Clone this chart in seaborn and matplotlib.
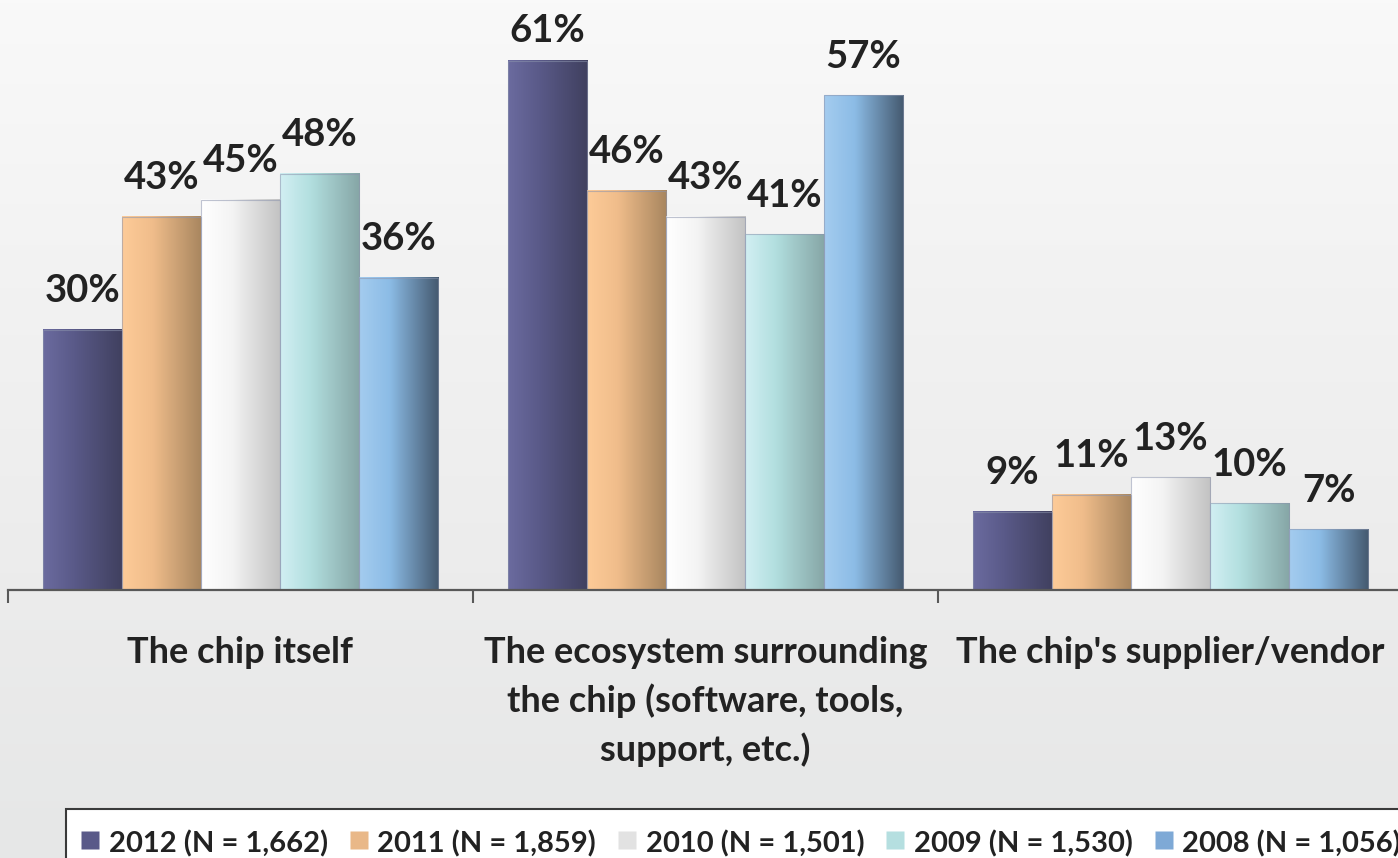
import numpy as np
import pandas as pd
import matplotlib
matplotlib.use("Agg")
import matplotlib.pyplot as plt
from matplotlib.colors import LinearSegmentedColormap
from matplotlib.lines import Line2D
from matplotlib.patches import Rectangle
import seaborn as sns

# ---- data ----
categories = ["The chip itself",
              "The ecosystem surrounding\nthe chip (software, tools,\nsupport, etc.)",
              "The chip's supplier/vendor"]
series = ["2012 (N = 1,662)", "2011 (N = 1,859)", "2010 (N = 1,501)",
          "2009 (N = 1,530)", "2008 (N = 1,056)"]
v2012 = [30, 61, 9]
v2011 = [43, 46, 11]
v2010 = [45, 43, 13]
v2009 = [48, 41, 10]
v2008 = [36, 57, 7]
values = [v2012, v2011, v2010, v2009, v2008]

df = pd.DataFrame({
    "category": [c for vals in values for c in categories],
    "series": [s for s, vals in zip(series, values) for _ in categories],
    "value": [v for vals in values for v in vals],
})

# gradient stops (left, mid, right) per series
grad_stops = [
    ("#6b6b9f", "#5a5a89", "#40405f"),
    ("#fdcb98", "#f0bd8b", "#a8865f"),
    ("#ffffff", "#f4f4f4", "#c2c2c2"),
    ("#d2eff3", "#b2dfdf", "#86a6a6"),
    ("#a4ccef", "#8cbce6", "#44596f"),
]
mid_colors = [s[1] for s in grad_stops]
legend_colors = ["#5a5a89", "#e9b888", "#e2e2e2", "#b5dfe0", "#7ea9d6"]

sns.set_theme(style="white")
plt.rcParams["font.family"] = ["Lato", "DejaVu Sans"]

W, H = 1398, 858
fig = plt.figure(figsize=(W / 100, H / 100), dpi=100)

# background vertical gradient
bg = fig.add_axes([0, 0, 1, 1], zorder=-10)
bg_cmap = LinearSegmentedColormap.from_list("bg", ["#f9f9f9", "#f2f2f2", "#ececec", "#e6e7e7"])
bg.imshow(np.linspace(0, 1, 256).reshape(-1, 1), aspect="auto", cmap=bg_cmap,
          extent=(0, 1, 0, 1), origin="upper")
bg.set_axis_off()

ax = fig.add_axes([8 / W, (H - 590) / H, 1395 / W, 590 / H])
ax.set_facecolor("none")

sns.barplot(data=df, x="category", y="value", hue="series", order=categories,
            hue_order=series, palette=mid_colors, width=0.85, saturation=1,
            legend=False, ax=ax)

ax.set_xlim(-0.5, 2.5)
ax.set_ylim(0, 68)

# gradient fills over bars
for i, cont in enumerate(ax.containers):
    cmap = LinearSegmentedColormap.from_list(
        f"g{i}", [(0, grad_stops[i][0]), (0.38, grad_stops[i][1]), (1, grad_stops[i][2])])
    img = np.linspace(0, 1, 128).reshape(1, -1)
    for p in cont.patches:
        x0, w, h = p.get_x(), p.get_width(), p.get_height()
        ax.imshow(img, cmap=cmap, aspect="auto", extent=(x0, x0 + w, 0, h),
                  zorder=2, interpolation="bilinear")
        p.set_facecolor("none")
        p.set_edgecolor((0.55, 0.58, 0.68, 0.55))
        p.set_linewidth(0.8)
        p.set_zorder(3)
    anns = ax.bar_label(cont, labels=[f"{v}%" for v in values[i]], padding=15.5,
                        fontsize=27.5, fontweight="bold", color="#222222")
    for a, v in zip(anns, values[i]):
        if v > 60:  # label pushed down against the top of the chart area
            a.xyann = (0, 9)

ax.set_xlim(-0.5, 2.5)
ax.set_ylim(0, 68)

# axes styling
for s in ["top", "right", "left"]:
    ax.spines[s].set_visible(False)
ax.spines["bottom"].set_color("#585858")
ax.spines["bottom"].set_linewidth(1.6)
ax.spines["bottom"].set_zorder(4)
ax.set_yticks([])
ax.set_xlabel("")
ax.set_ylabel("")
ax.set_xticks(range(len(categories)))
ax.set_xticklabels(categories, fontsize=26, fontweight="bold", color="#222222",
                   linespacing=1.5)
ax.set_xticks([-0.5, 0.5, 1.5, 2.5], minor=True)
ax.tick_params(axis="x", which="major", length=0, pad=33)
ax.tick_params(axis="x", which="minor", length=9, width=1.5, color="#585858",
               direction="out", bottom=True)

# legend box (extends past the figure edge, as in the reference)
fig.add_artist(Rectangle((66 / W, -0.05), 1.2, (1 - 809 / H) + 0.05,
                         transform=fig.transFigure, facecolor="white",
                         edgecolor="#3a3a3a", linewidth=1.5, zorder=-5))

handles = [Line2D([], [], linestyle="none", marker="s", markersize=13.5,
                  markerfacecolor=c, markeredgecolor="none") for c in legend_colors]
leg = ax.legend(handles, series, loc="upper left",
                bbox_to_anchor=(80 / W, 1 - 828 / H), bbox_transform=fig.transFigure,
                ncol=5, frameon=False, borderaxespad=0, borderpad=0,
                prop={"family": ["Lato", "DejaVu Sans"], "weight": "bold", "size": 21},
                handlelength=0.7, handleheight=1.2, handletextpad=0.28,
                columnspacing=0.72)
for t in leg.get_texts():
    t.set_color("#222222")

fig.savefig("out.png", dpi=100)
